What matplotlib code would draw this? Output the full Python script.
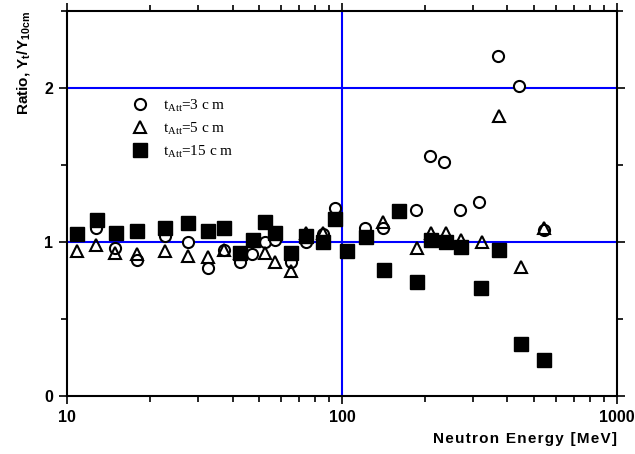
import matplotlib.pyplot as plt
from matplotlib.ticker import LogLocator, NullFormatter, FixedLocator

plt.rcParams['mathtext.fontset'] = 'custom'
plt.rcParams['mathtext.rm'] = 'Liberation Serif'

# t_Att = 3 cm (open circles)
e3 = [10.9, 12.8, 15.0, 18.0, 22.7, 27.5, 32.6, 37.2, 42.6, 47.2, 52.5, 57.1, 65.3, 74.0, 85.3, 94.4,
      121.0, 141.0, 186.5, 209.0, 235.0, 268.0, 316.0, 368.0, 442.0, 543.0]
r3 = [1.05, 1.09, 0.96, 0.88, 1.04, 1.00, 0.83, 0.95, 0.87, 0.92, 1.00, 1.01, 0.87, 1.00, 1.05, 1.22,
      1.09, 1.09, 1.21, 1.56, 1.52, 1.21, 1.26, 2.21, 2.01, 1.08]

# t_Att = 5 cm (open triangles)
e5 = [10.9, 12.8, 15.0, 18.0, 22.7, 27.5, 32.6, 37.2, 42.6, 52.5, 57.1, 65.3, 74.0, 85.3,
      141.0, 187.4, 210.7, 238.9, 272.0, 322.0, 372.4, 447.7, 543.0]
r5 = [0.94, 0.98, 0.93, 0.92, 0.94, 0.91, 0.90, 0.95, 0.93, 0.93, 0.87, 0.81, 1.06, 1.06,
      1.13, 0.96, 1.06, 1.06, 1.01, 1.00, 1.82, 0.84, 1.09]

# t_Att = 15 cm (filled squares)
e15 = [10.9, 12.85, 15.07, 17.97, 22.7, 27.5, 32.6, 37.2, 42.6, 47.5, 52.5, 57.1, 65.3, 74.0, 85.3, 94.4,
       104.2, 122.3, 142.2, 161.2, 187.4, 210.7, 238.9, 270.8, 320.2, 372.4, 447.7, 543.0]
r15 = [1.05, 1.14, 1.06, 1.07, 1.09, 1.12, 1.07, 1.09, 0.93, 1.01, 1.13, 1.06, 0.93, 1.04, 1.00, 1.15,
       0.94, 1.03, 0.82, 1.20, 0.74, 1.01, 1.00, 0.97, 0.70, 0.95, 0.34, 0.23]

xticks = [10, 100, 1000]
xlabels = ['10', '100', '1000']
yticks = [0, 1, 2]

fam = ['Liberation Sans', 'DejaVu Sans']

fig = plt.figure(figsize=(6.35, 4.54), dpi=100)
ax = fig.add_axes([0.1055, 0.128, 0.866, 0.848])

ax.axhline(1, color='#0000ff', lw=1.5, zorder=1)
ax.axhline(2, color='#0000ff', lw=1.5, zorder=1)
ax.axvline(100, color='#0000ff', lw=1.5, zorder=1)

ax.plot(e3, r3, 'o', ms=8, mfc='white', mec='black', mew=1.5, ls='none',
        label=r'$\mathrm{t_{Att}}$=3 c m', zorder=3)
ax.plot(e5, r5, '^', ms=8, mfc='none', mec='black', mew=1.5, ls='none',
        label=r'$\mathrm{t_{Att}}$=5 c m', zorder=3)
ax.plot(e15, r15, 's', ms=10, mfc='black', mec='black', ls='none',
        label=r'$\mathrm{t_{Att}}$=15 c m', zorder=4)

ax.set_xscale('log')
ax.set_xlim(10, 1000)
ax.set_ylim(0, 2.5)
ax.set_xticks(xticks)
ax.set_xticklabels(xlabels)
ax.xaxis.set_minor_locator(LogLocator(base=10, subs=range(2, 10)))
ax.xaxis.set_minor_formatter(NullFormatter())
ax.set_yticks(yticks)
ax.yaxis.set_minor_locator(FixedLocator([0.5, 1.5, 2.5]))

for s in ax.spines.values():
    s.set_linewidth(1.5)
ax.tick_params(which='both', direction='out', top=True, right=True, width=1.2)
ax.tick_params(which='major', length=6, labelsize=11.5, pad=4)
ax.tick_params(which='minor', length=4)
ax.tick_params(labelright=False, labeltop=False)
for lbl in ax.get_xticklabels() + ax.get_yticklabels():
    lbl.set_fontweight('bold')
    lbl.set_fontfamily(fam)

ax.set_xlabel('\u200a'.join('Neutron Energy [MeV]'), fontsize=11, fontweight='bold',
              family=fam, loc='right', labelpad=5)
ax.set_ylabel(r'Ratio, Y$_\mathregular{t}$/Y$_\mathregular{10cm}$', fontsize=11,
              fontweight='bold', family='Liberation Sans', loc='top', labelpad=8)

leg = ax.legend(loc='upper left', bbox_to_anchor=(0.08, 0.81), frameon=False,
                prop={'family': 'Liberation Serif', 'size': 11}, handletextpad=0.5,
                labelspacing=0.45)

fig.savefig('out.png', dpi=100)
